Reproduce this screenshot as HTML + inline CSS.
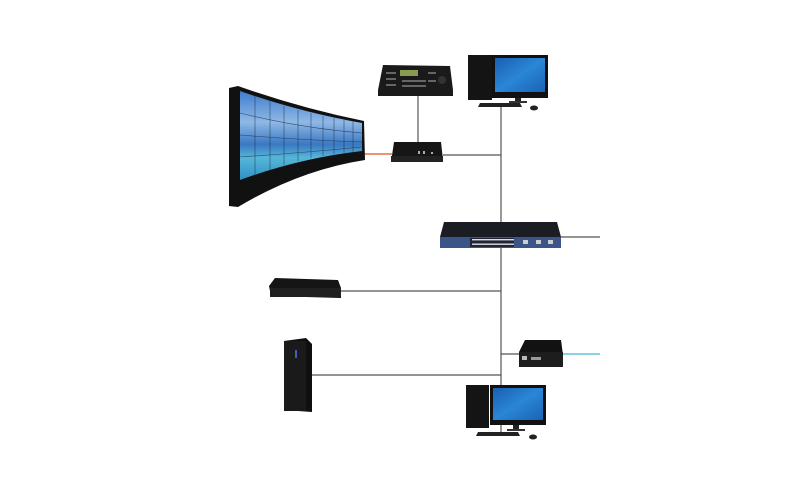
<!DOCTYPE html>
<html><head><meta charset="utf-8"><style>html,body{margin:0;padding:0;background:#fff;}svg{display:block}</style></head>
<body>
<svg width="800" height="500" viewBox="0 0 800 500" xmlns="http://www.w3.org/2000/svg">
<defs>
<linearGradient id="scr" x1="0" y1="0" x2="0" y2="1">
<stop offset="0" stop-color="#3f7ccc"/><stop offset="0.35" stop-color="#8fb8e6"/><stop offset="0.6" stop-color="#3a78c2"/><stop offset="0.75" stop-color="#56b6d8"/><stop offset="1" stop-color="#2f8fc4"/>
</linearGradient>
<linearGradient id="mon" x1="0" y1="0" x2="1" y2="1">
<stop offset="0" stop-color="#1a5fb0"/><stop offset="0.5" stop-color="#2a86d6"/><stop offset="1" stop-color="#1b62b4"/>
</linearGradient>
</defs>
<!-- lines -->
<g stroke="#555" stroke-width="1.2" fill="none">
<line x1="501" y1="107" x2="501" y2="436"/>
<line x1="418" y1="95" x2="418" y2="143"/>
<line x1="443" y1="155" x2="501" y2="155"/>
<line x1="561" y1="237" x2="600" y2="237"/>
<line x1="341" y1="291" x2="501" y2="291"/>
<line x1="501" y1="354" x2="520" y2="354"/>
<line x1="312" y1="375" x2="501" y2="375"/>
</g>
<line x1="364" y1="154" x2="392" y2="154" stroke="#e0502a" stroke-width="1.3"/>
<line x1="563" y1="354" x2="600" y2="354" stroke="#40b8d8" stroke-width="1.3"/>
<!-- video wall -->
<path d="M229,88 L238,86 Q300,108 364,121 L365,160 Q300,170 238,207 L229,206 Z" fill="#111"/>
<path d="M240,91 Q300,112 362,123 L362,151 Q300,158 240,180 Z" fill="url(#scr)"/>
<g stroke="#123" stroke-width="0.6" fill="none" opacity="0.7">
<path d="M240,113 Q300,128 362,133"/><path d="M240,135 Q300,140 362,142"/><path d="M240,157 Q300,153 362,147"/>
<line x1="255" y1="96" x2="255" y2="175"/><line x1="270" y1="101" x2="270" y2="170"/><line x1="284" y1="106" x2="284" y2="165"/><line x1="298" y1="110" x2="298" y2="161"/><line x1="311" y1="113" x2="311" y2="158"/><line x1="323" y1="116" x2="323" y2="156"/><line x1="334" y1="118" x2="334" y2="154"/><line x1="344" y1="120" x2="344" y2="153"/><line x1="353" y1="121" x2="353" y2="152"/>
</g>
<!-- keyboard controller -->
<path d="M383,65 L450,66 L453,90 L453,96 L378,96 L378,90 Z" fill="#1a1a1a"/>
<rect x="400" y="70" width="18" height="6" fill="#8a9a50"/>
<g fill="#666"><rect x="386" y="72" width="10" height="2"/><rect x="386" y="78" width="10" height="2"/><rect x="386" y="84" width="10" height="2"/><rect x="402" y="80" width="24" height="2"/><rect x="402" y="85" width="24" height="2"/><rect x="428" y="72" width="8" height="2"/><rect x="428" y="80" width="8" height="2"/></g>
<circle cx="442" cy="80" r="4" fill="#333"/>
<!-- decoder box -->
<path d="M394,142 L441,142 L443,160 L391,162 Z" fill="#161616"/>
<rect x="391" y="156" width="52" height="6" fill="#222"/>
<g fill="#aaa"><rect x="418" y="151" width="2" height="3"/><rect x="423" y="151" width="2" height="3"/><rect x="431" y="152" width="2" height="2"/></g>
<!-- top PC -->
<rect x="468" y="55" width="24" height="45" fill="#141414"/>
<rect x="492" y="55" width="56" height="43" fill="#111"/>
<rect x="495" y="58" width="50" height="34" fill="url(#mon)"/>
<rect x="515" y="98" width="6" height="3" fill="#222"/><rect x="509" y="101" width="18" height="2" fill="#333"/>
<path d="M480,103 L520,103 L522,107 L478,107 Z" fill="#222"/>
<ellipse cx="534" cy="108" rx="4" ry="2.5" fill="#222"/>
<!-- switch -->
<path d="M444,222 L557,222 L561,237 L440,237 Z" fill="#1b1d24"/>
<rect x="440" y="237" width="121" height="11" fill="#3c5588"/>
<rect x="470" y="238" width="44" height="9" fill="#20263a"/>
<g fill="#ddd"><rect x="472" y="239" width="42" height="1.4"/><rect x="472" y="243.5" width="42" height="1.4"/></g>
<g fill="#ccc"><rect x="523" y="240" width="5" height="4"/><rect x="536" y="240" width="5" height="4"/><rect x="548" y="240" width="5" height="4"/></g>
<!-- NVR -->
<path d="M275,278 L338,280 L341,288 L341,298 L271,296 L269,286 Z" fill="#151515"/>
<rect x="270" y="288" width="71" height="9" fill="#202020"/>
<!-- converter -->
<path d="M525,340 L561,340 L563,355 L561,367 L519,367 L519,352 Z" fill="#121212"/>
<rect x="519" y="352" width="44" height="15" fill="#1d1d1d"/>
<rect x="522" y="356" width="5" height="4" fill="#bbb"/><rect x="531" y="357" width="10" height="3" fill="#999"/>
<!-- tower server -->
<path d="M284,341 L306,338 L312,344 L312,412 L284,410 Z" fill="#0f0f0f"/>
<rect x="284" y="341" width="22" height="70" fill="#1a1a1a"/>
<rect x="295" y="350" width="2" height="8" fill="#4060c0"/>
<!-- bottom PC -->
<rect x="466" y="385" width="23" height="43" fill="#141414"/>
<rect x="490" y="385" width="56" height="40" fill="#111"/>
<rect x="493" y="388" width="50" height="32" fill="url(#mon)"/>
<rect x="513" y="425" width="6" height="4" fill="#222"/><rect x="507" y="429" width="18" height="2" fill="#333"/>
<path d="M478,432 L518,432 L520,436 L476,436 Z" fill="#222"/>
<ellipse cx="533" cy="437" rx="4" ry="2.5" fill="#222"/>
</svg>
</body></html>
